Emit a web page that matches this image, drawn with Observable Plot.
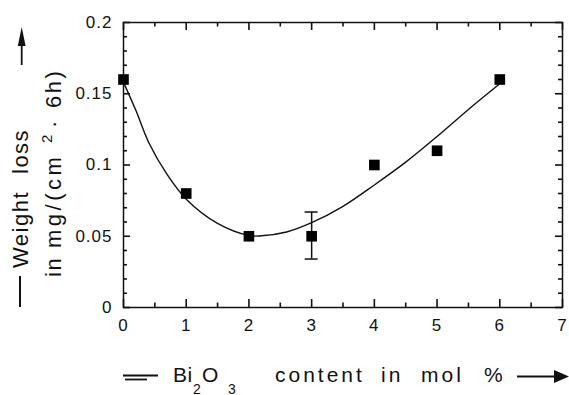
<!DOCTYPE html>
<html>
<head>
<meta charset="utf-8">
<script src="https://cdn.jsdelivr.net/npm/d3@7"></script>
<script src="https://cdn.jsdelivr.net/npm/@observablehq/plot@0.6"></script>
<style>
  body { margin: 0; background: #fff; }
  #chart svg { display: block; }
</style>
</head>
<body>
<div id="chart"></div>
<script>
// Measured points (Bi2O3 content in mol %, weight loss in mg/(cm²·6h))
const contentMol = [0, 1, 2, 3, 4, 5, 6];
const weightLoss = [0.16, 0.08, 0.05, 0.05, 0.10, 0.11, 0.16];

// Error bar
const errContent = [3];
const errLow = [0.034];
const errHigh = [0.067];

// Fitted curve
const curveContent = [0, 0.2, 0.4, 0.7, 1.0, 1.5, 2.0, 2.2, 2.6, 3.0, 3.5, 4.0, 4.5, 5.0, 5.5, 6.0];
const curveLoss = [0.158, 0.138, 0.116, 0.093, 0.076, 0.059, 0.0505, 0.0503, 0.053, 0.0595, 0.071, 0.086, 0.102, 0.120, 0.139, 0.157];

// Ticks
const xMajorTicks = [0, 1, 2, 3, 4, 5, 6, 7];
const xMinorTicks = [0.5, 1.5, 2.5, 3.5, 4.5, 5.5, 6.5];
const yMajorTicks = [0, 0.05, 0.1, 0.15, 0.2];
const yTickLabels = ["0", "0.05", "0.1", "0.15", "0.2"];
const yMinorTicks = [0.01, 0.02, 0.03, 0.04, 0.06, 0.07, 0.08, 0.09, 0.11, 0.12, 0.13, 0.14, 0.16, 0.17, 0.18, 0.19];

// Axis titles
const yTitleWords = ["Weight", "loss"];
const yUnitParts = ["in", "mg/(cm", "2", "·", "6h)"];
const xTitleParts = ["Bi", "2", "O", "3", "content", "in", "mol", "%"];

const points = contentMol.map((x, i) => ({x, y: weightLoss[i]}));
const errors = errContent.map((x, i) => ({x, lo: errLow[i], hi: errHigh[i]}));
const curve = curveContent.map((x, i) => ({x, y: curveLoss[i]}));

const ink = "#111";
const font = "Liberation Sans";

const W = 569, H = 395, mL = 123, mR = 7, mT = 22, mB = 88;
const xDomain = [0, 7], yDomain = [0, 0.2];
const fw = W - mL - mR, fh = H - mT - mB;
// convert pixel lengths to data units (for tick marks & caps)
const xu = px => px * (xDomain[1] - xDomain[0]) / fw;
const yu = px => px * (yDomain[1] - yDomain[0]) / fh;
const majLen = 8, minLen = 4.5, capHalfPx = 6.5;
const tick = {stroke: ink, strokeWidth: 1.6};

const chart = Plot.plot({
  width: W,
  height: H,
  marginLeft: mL,
  marginRight: mR,
  marginTop: mT,
  marginBottom: mB,
  x: {domain: xDomain, label: null},
  y: {domain: yDomain, label: null},
  style: {fontFamily: font, fontSize: "17px", color: ink, background: "#fff"},
  marks: [
    // tick labels
    Plot.axisX(xMajorTicks, {anchor: "bottom", tickSize: 0, tickPadding: 11, tickFormat: d => String(d), label: null}),
    Plot.axisY(yMajorTicks, {anchor: "left", tickSize: 0, tickPadding: 11, tickFormat: d => yTickLabels[yMajorTicks.indexOf(d)], label: null}),
    // inward ticks: bottom / top
    Plot.ruleX(xMajorTicks, {x: d => d, y1: yDomain[0], y2: yDomain[0] + yu(majLen), ...tick}),
    Plot.ruleX(xMinorTicks, {x: d => d, y1: yDomain[0], y2: yDomain[0] + yu(minLen), ...tick}),
    Plot.ruleX(xMajorTicks, {x: d => d, y1: yDomain[1] - yu(majLen), y2: yDomain[1], ...tick}),
    Plot.ruleX(xMinorTicks, {x: d => d, y1: yDomain[1] - yu(minLen), y2: yDomain[1], ...tick}),
    // inward ticks: left / right
    Plot.ruleY(yMajorTicks, {y: d => d, x1: xDomain[0], x2: xDomain[0] + xu(majLen - 1), ...tick}),
    Plot.ruleY(yMinorTicks, {y: d => d, x1: xDomain[0], x2: xDomain[0] + xu(minLen - 0.5), ...tick}),
    Plot.ruleY(yMajorTicks, {y: d => d, x1: xDomain[1] - xu(majLen - 1), x2: xDomain[1], ...tick}),
    Plot.ruleY(yMinorTicks, {y: d => d, x1: xDomain[1] - xu(minLen - 0.5), x2: xDomain[1], ...tick}),
    Plot.frame({stroke: ink, strokeWidth: 1.5}),
    // curve
    Plot.line(curve, {x: "x", y: "y", curve: "catmull-rom", stroke: ink, strokeWidth: 1.4}),
    // error bar
    Plot.ruleX(errors, {x: "x", y1: "lo", y2: "hi", stroke: ink, strokeWidth: 1.5}),
    Plot.ruleY(errors, {y: "lo", x1: d => d.x - xu(capHalfPx), x2: d => d.x + xu(capHalfPx), stroke: ink, strokeWidth: 1.5}),
    Plot.ruleY(errors, {y: "hi", x1: d => d.x - xu(capHalfPx), x2: d => d.x + xu(capHalfPx), stroke: ink, strokeWidth: 1.5}),
    // points
    Plot.dot(points, {x: "x", y: "y", symbol: "square", r: 6, fill: "#000", stroke: null})
  ]
});

document.getElementById("chart").appendChild(chart);

const svg = d3.select(chart);
svg.selectAll("text").style("letter-spacing", "1px");

// ---- Y axis title (rotated) ----
const gy = svg.append("g").attr("fill", ink).attr("font-family", font).attr("text-anchor", "start").attr("font-size", 22);
const vtext = (x, y, s, extra) => {
  const t = gy.append("text")
    .attr("transform", `translate(${x},${y}) rotate(-90)`)
    .attr("text-anchor", "start")
    .style("letter-spacing", "1.5px")
    .text(s);
  if (extra) extra(t);
  return t;
};
vtext(28, 268, yTitleWords[0]);
vtext(28, 174, yTitleWords[1]);
gy.append("line").attr("x1", 20).attr("x2", 20).attr("y1", 307).attr("y2", 276).attr("stroke", ink).attr("stroke-width", 2);
gy.append("line").attr("x1", 21.7).attr("x2", 21.7).attr("y1", 65).attr("y2", 42).attr("stroke", ink).attr("stroke-width", 1.8);
gy.append("path").attr("d", "M21.7,27 L17.8,46 L25.6,46 Z").attr("fill", ink);

vtext(61, 277, yUnitParts[0]);
vtext(61, 248, yUnitParts[1], t => t.style("letter-spacing", "3.5px"));
vtext(52, 143, yUnitParts[2], t => t.attr("font-size", 15));
vtext(61, 128, yUnitParts[3]);
vtext(61, 108, yUnitParts[4], t => t.style("letter-spacing", "2.5px"));

// ---- X axis title ----
const gx = svg.append("g").attr("fill", ink).attr("font-family", font).attr("text-anchor", "start");
gx.append("line").attr("x1", 123).attr("x2", 158).attr("y1", 375.5).attr("y2", 375.5).attr("stroke", ink).attr("stroke-width", 1.8);
gx.append("line").attr("x1", 125).attr("x2", 147).attr("y1", 379.5).attr("y2", 379.5).attr("stroke", ink).attr("stroke-width", 1.8);
const xt = (x, y, s, size, ls) => gx.append("text")
  .attr("x", x).attr("y", y).attr("font-size", size)
  .attr("text-anchor", "start")
  .style("letter-spacing", ls + "px")
  .text(s);
xt(173, 381.5, xTitleParts[0], 21, 0.5);
xt(193, 393.5, xTitleParts[1], 14, 0);
xt(202, 381.5, xTitleParts[2], 21, 0);
xt(228, 393.5, xTitleParts[3], 14, 0);
xt(275, 381.5, xTitleParts[4], 21, 3);
xt(381, 381.5, xTitleParts[5], 21, 3);
xt(421, 381.5, xTitleParts[6], 21, 3);
xt(484, 381.5, xTitleParts[7], 21, 0);
gx.append("line").attr("x1", 517).attr("x2", 556).attr("y1", 376.5).attr("y2", 376.5).attr("stroke", ink).attr("stroke-width", 1.8);
gx.append("path").attr("d", "M569,376.5 L554,370 L554,383 Z").attr("fill", ink);
</script>
</body>
</html>
